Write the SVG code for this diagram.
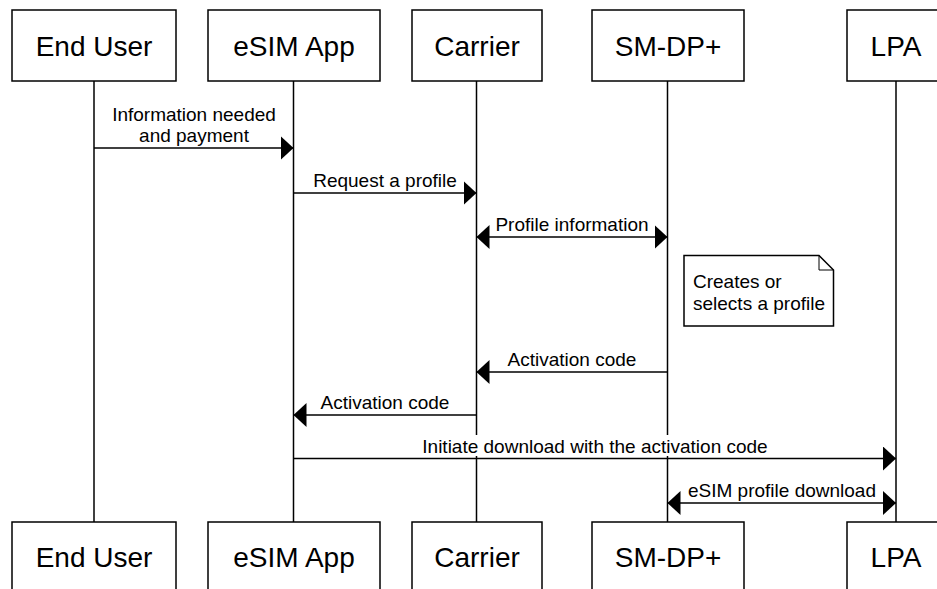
<svg xmlns="http://www.w3.org/2000/svg" width="937" height="589" viewBox="0 0 937 589">
<style>
.box{fill:#fff;stroke:#000;stroke-width:1.5}
.life{stroke:#000;stroke-width:1.5;fill:none}
.msg{stroke:#000;stroke-width:1.5;fill:none}
.pt{font-family:"Liberation Sans",Arial,sans-serif;font-size:28px;fill:#000;text-anchor:middle}
.lbl{font-family:"Liberation Sans",Arial,sans-serif;font-size:19px;fill:#000;text-anchor:middle}
.note{font-family:"Liberation Sans",Arial,sans-serif;font-size:19px;fill:#000}
</style>
<defs>
<marker id="ah" markerWidth="13" markerHeight="24" refX="13" refY="12" orient="auto" markerUnits="userSpaceOnUse">
<path d="M0,0 L13,12 L0,24 Z" fill="#000"/>
</marker>
<marker id="ahs" markerWidth="13" markerHeight="24" refX="0" refY="12" orient="auto" markerUnits="userSpaceOnUse">
<path d="M13,0 L0,12 L13,24 Z" fill="#000"/>
</marker>
</defs>
<rect width="937" height="589" fill="#fff"/>
<g id="lifelines">
<line class="life" x1="94" y1="81" x2="94" y2="522"/>
<line class="life" x1="293.5" y1="81" x2="293.5" y2="522"/>
<line class="life" x1="476.5" y1="81" x2="476.5" y2="522"/>
<line class="life" x1="667.5" y1="81" x2="667.5" y2="522"/>
<line class="life" x1="896" y1="81" x2="896" y2="522"/>
</g>
<g id="end-user-top"><rect class="box" x="12" y="10" width="164" height="71"/><text class="pt" x="94" y="56">End User</text></g>
<g id="esim-app-top"><rect class="box" x="208" y="10" width="172" height="71"/><text class="pt" x="294" y="56">eSIM App</text></g>
<g id="carrier-top"><rect class="box" x="412" y="10" width="130" height="71"/><text class="pt" x="477" y="56">Carrier</text></g>
<g id="smdp-top"><rect class="box" x="592" y="10" width="152" height="71"/><text class="pt" x="668" y="56">SM-DP+</text></g>
<g id="lpa-top"><rect class="box" x="847" y="10" width="98" height="71"/><text class="pt" x="896" y="56">LPA</text></g>
<g id="end-user-bottom"><rect class="box" x="12" y="522" width="164" height="71"/><text class="pt" x="94" y="567">End User</text></g>
<g id="esim-app-bottom"><rect class="box" x="208" y="522" width="172" height="71"/><text class="pt" x="294" y="567">eSIM App</text></g>
<g id="carrier-bottom"><rect class="box" x="412" y="522" width="130" height="71"/><text class="pt" x="477" y="567">Carrier</text></g>
<g id="smdp-bottom"><rect class="box" x="592" y="522" width="152" height="71"/><text class="pt" x="668" y="567">SM-DP+</text></g>
<g id="lpa-bottom"><rect class="box" x="847" y="522" width="98" height="71"/><text class="pt" x="896" y="567">LPA</text></g>
<g id="note">
<path d="M684,255.5 L819,255.5 L833.5,270 L833.5,326 L684,326 Z" fill="#fff" stroke="#000" stroke-width="1.5"/>
<path d="M819,255.5 L819,270 L833.5,270" fill="none" stroke="#000" stroke-width="1"/>
<text class="note" x="693" y="288">Creates or</text>
<text class="note" x="693" y="310">selects a profile</text>
</g>
<g id="connectors">
<line class="msg" x1="94" y1="148" x2="293.5" y2="148" marker-end="url(#ah)"/>
<text class="lbl" x="194" y="121">Information needed</text>
<text class="lbl" x="194" y="142">and payment</text>
<line class="msg" x1="293.5" y1="193" x2="476.5" y2="193" marker-end="url(#ah)"/>
<text class="lbl" x="385" y="187">Request a profile</text>
<line class="msg" x1="476.5" y1="237" x2="667.5" y2="237" marker-start="url(#ahs)" marker-end="url(#ah)"/>
<text class="lbl" x="572" y="231">Profile information</text>
<line class="msg" x1="667.5" y1="372" x2="476.5" y2="372" marker-end="url(#ah)"/>
<text class="lbl" x="572" y="366">Activation code</text>
<line class="msg" x1="476.5" y1="415" x2="293.5" y2="415" marker-end="url(#ah)"/>
<text class="lbl" x="385" y="409">Activation code</text>
<rect x="420" y="435" width="350" height="21" fill="#fff"/>
<line class="msg" x1="293.5" y1="458.5" x2="896" y2="458.5" marker-end="url(#ah)"/>
<text class="lbl" x="595" y="453">Initiate download with the activation code</text>
<line class="msg" x1="667.5" y1="503" x2="896" y2="503" marker-start="url(#ahs)" marker-end="url(#ah)"/>
<text class="lbl" x="782" y="497">eSIM profile download</text>
</g>
</svg>
